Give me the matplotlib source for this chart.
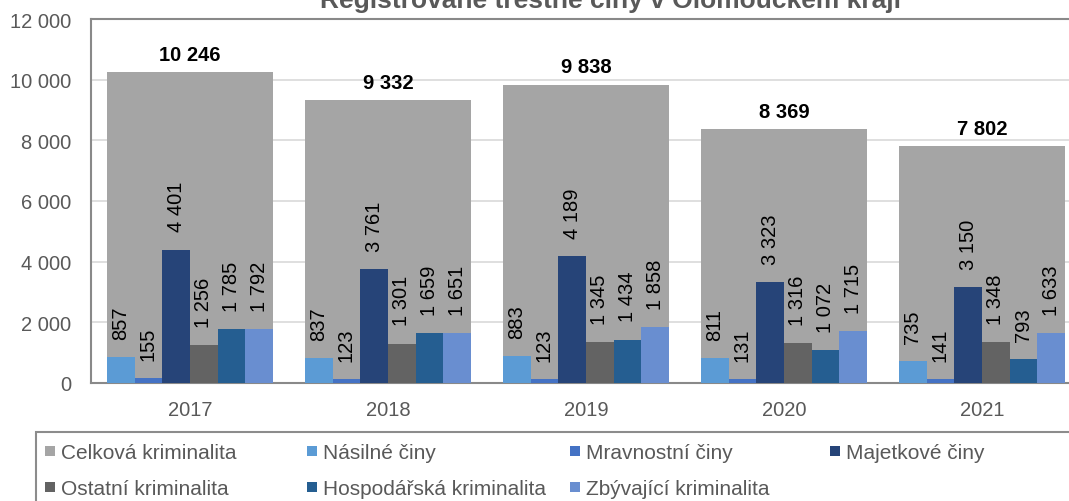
import matplotlib
matplotlib.use('Agg')
import matplotlib.pyplot as plt
from matplotlib.patches import Rectangle
import numpy as np

plt.rcParams['font.family'] = ['Liberation Sans', 'DejaVu Sans']

# data
years = ['2017', '2018', '2019', '2020', '2021']
celkova = [10246, 9332, 9838, 8369, 7802]
nasilne = [857, 837, 883, 811, 735]
mravnostni = [155, 123, 123, 131, 141]
majetkove = [4401, 3761, 4189, 3323, 3150]
ostatni = [1256, 1301, 1345, 1316, 1348]
hospodarska = [1785, 1659, 1434, 1072, 793]
zbyvajici = [1792, 1651, 1858, 1715, 1633]

title = 'Registrované trestné činy v Olomouckém kraji'
series = [
    ('Násilné činy', nasilne, '#5B9BD5'),
    ('Mravnostní činy', mravnostni, '#4472C4'),
    ('Majetkové činy', majetkove, '#264478'),
    ('Ostatní kriminalita', ostatni, '#636363'),
    ('Hospodářská kriminalita', hospodarska, '#255E91'),
    ('Zbývající kriminalita', zbyvajici, '#698ED0'),
]
total_color = '#A5A5A5'
text_gray = '#595959'


def fmt(v):
    return f'{v:,}'.replace(',', ' ')


W, H = 1069, 502
fig = plt.figure(figsize=(W / 100, H / 100), dpi=100)
ax = fig.add_axes([91 / W, 118 / H, 990 / W, 364 / H])

x = np.arange(len(years))
tot = ax.bar(x, celkova, width=0.84, color=total_color, zorder=2)
for b, v in zip(tot, celkova):
    ax.annotate(fmt(v), (b.get_x() + b.get_width() / 2, v), xytext=(0, 6),
                textcoords='offset points', ha='center', va='bottom',
                fontsize=14.5, weight='bold', color='black')

w = 0.14
for i, (name, vals, col) in enumerate(series):
    pos = x - 0.42 + w / 2 + i * w
    bars = ax.bar(pos, vals, width=w, color=col, zorder=3)
    for b, v in zip(bars, vals):
        ax.annotate(fmt(v), (b.get_x() + b.get_width() / 2, v), xytext=(0, 13),
                    textcoords='offset points', ha='center', va='bottom',
                    rotation=90, fontsize=14.5, color='black')

ax.set_xlim(-0.5, 4.5)
ax.set_ylim(0, 12000)
ax.set_yticks(range(0, 12001, 2000))
ax.set_yticklabels([fmt(t) for t in range(0, 12001, 2000)])
ax.set_xticks(x)
ax.set_xticklabels(years)
ax.tick_params(axis='y', length=0, pad=14, labelsize=14.5, labelcolor=text_gray)
ax.tick_params(axis='x', length=0, pad=12, labelsize=14.5, labelcolor=text_gray)
ax.grid(axis='y', color='#D9D9D9', lw=1.2, zorder=0)
for s in ax.spines.values():
    s.set_color('#898989')
    s.set_linewidth(1.5)

fig.text(611 / W, 1 - 8 / H, title, ha='center', va='baseline',
         fontsize=19, weight='bold', color=text_gray)

# legend drawn by hand to keep the even column grid
fig.add_artist(Rectangle((36 / W, -0.1), 1.2, 1 - 433 / H + 0.1,
                         transform=fig.transFigure, fill=False,
                         edgecolor='#8C8C8C', lw=1.5))
entries = [('Celková kriminalita', total_color)] + [(n, c) for n, _, c in series]
col_x = [45, 307, 570, 830]
row_y = [452, 488]
for k, (name, col) in enumerate(entries):
    mx = col_x[k % 4]
    my = row_y[k // 4]
    fig.add_artist(Rectangle((mx / W, 1 - (my + 5) / H), 10 / W, 10 / H,
                             transform=fig.transFigure, color=col, lw=0))
    fig.text((mx + 16) / W, 1 - my / H, name, ha='left', va='center_baseline',
             fontsize=15, color=text_gray)

fig.savefig('out.png', dpi=100)
